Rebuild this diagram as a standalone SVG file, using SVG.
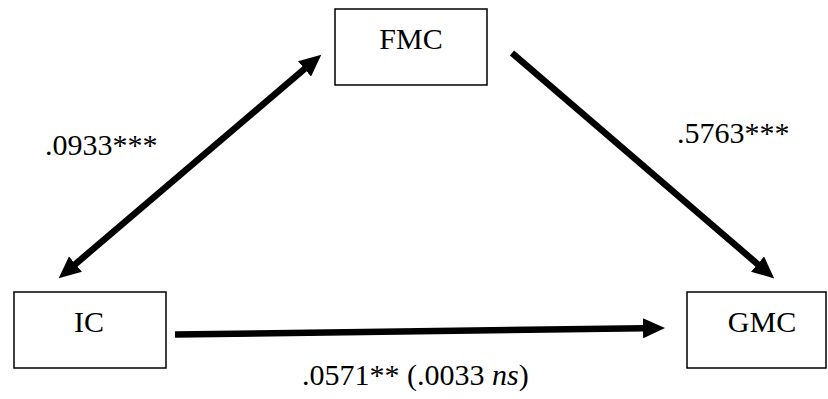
<svg xmlns="http://www.w3.org/2000/svg" width="828" height="399" viewBox="0 0 828 399">
<style>
.box{fill:#fff;stroke:#000;stroke-width:1.5}
.t{font-family:"Liberation Serif","Times New Roman",serif;font-size:30px;fill:#000}
.c{stroke:#000;stroke-width:6.5;fill:none}
</style>
<defs>
<marker id="ah" viewBox="0 0 22 20" refX="1" refY="10" markerWidth="22" markerHeight="20" markerUnits="userSpaceOnUse" orient="auto-start-reverse">
<path d="M0,0 L22,10 L0,20 z" fill="#000"/>
</marker>
</defs>
<rect width="828" height="399" fill="#fff"/>
<g id="connectors">
<line class="c" x1="74.7" y1="264.7" x2="305.3" y2="68.3" marker-start="url(#ah)" marker-end="url(#ah)"/>
<line class="c" x1="512" y1="53" x2="758.3" y2="264.7" marker-end="url(#ah)"/>
<line class="c" x1="175" y1="334.5" x2="644" y2="328.3" marker-end="url(#ah)"/>
<text class="t" x="45" y="155">.0933***</text>
<text class="t" x="677" y="143">.5763***</text>
<text class="t" x="302" y="385">.0571** (.0033 <tspan font-style="italic">ns</tspan>)</text>
</g>
<g id="FMC">
<rect class="box" x="335" y="9" width="152" height="76"/>
<text class="t" x="411" y="49" text-anchor="middle">FMC</text>
</g>
<g id="IC">
<rect class="box" x="14" y="292" width="152" height="76"/>
<text class="t" x="89" y="332" text-anchor="middle">IC</text>
</g>
<g id="GMC">
<rect class="box" x="687" y="292" width="139" height="76"/>
<text class="t" x="762" y="332" text-anchor="middle">GMC</text>
</g>
</svg>
